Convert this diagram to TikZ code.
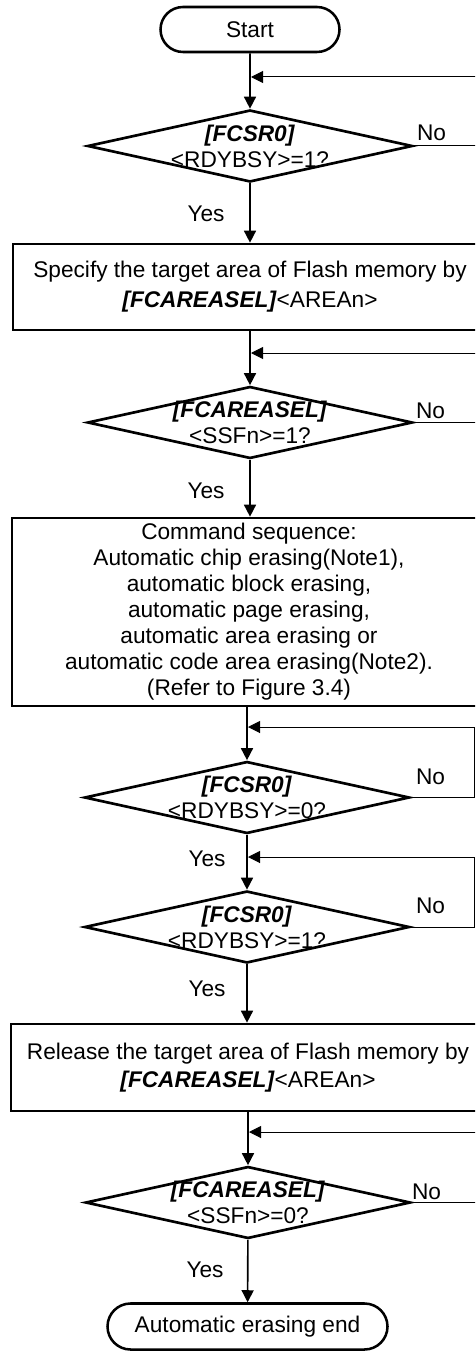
\documentclass[tikz,border=0pt]{standalone}
\usepackage{fontspec}
\setmainfont{Liberation Sans}
\usetikzlibrary{arrows.meta}
\usetikzlibrary{shapes.geometric,shapes.misc}

\newcommand{\regcond}[2]{\makebox[0pt]{\textbf{\textit{#1}}}\\\makebox[0pt]{#2}}

\begin{document}
\begin{tikzpicture}[x=0.75pt,y=0.75pt,yscale=-1,xscale=1,
  every node/.style={font=\fontsize{17}{19.5}\selectfont},
  term/.style={draw,line width=1.9pt,rounded rectangle,minimum height=33.75pt,inner sep=0pt},
  proc/.style={draw,line width=2pt,rectangle,minimum width=355.5pt,inner sep=0pt,align=center},
  cond/.style={draw,line width=2pt,diamond,minimum width=243.75pt,minimum height=54pt,inner sep=0pt,align=center},
  lbl/.style={inner sep=0pt},
  flow/.style={line width=1.2pt,-{Triangle[length=9pt,width=9pt]}},
  back/.style={line width=0.75pt,-{Triangle[length=9pt,width=9pt]}}]
			%Clip: page frame
			\clip (0,0) rectangle (475,1352);
			
			%Shape: Terminal [id:start]
			\node[term,minimum width=134.25pt] (start) at (250,29.5) {Start};
			%Shape: Diamond [id:chk1]
			\node[cond] (chk1) at (250,146) {\regcond{[FCSR0]}{<RDYBSY>=1?}};
			%Shape: Rectangle [id:sel]
			\node[proc,minimum height=64.5pt] (sel) at (250,287) {Specify the target area of Flash memory by\\[3pt]\textbf{\textit{[FCAREASEL]}}<AREAn>};
			%Shape: Diamond [id:chk2]
			\node[cond] (chk2) at (250,422.5) {\regcond{[FCAREASEL]}{<SSFn>=1?}};
			%Shape: Rectangle [id:cmd]
			\node[proc,minimum height=141pt] (cmd) at (249,612) {Command sequence:\\Automatic chip erasing(Note1),\\automatic block erasing,\\automatic page erasing,\\automatic area erasing or\\automatic code area erasing(Note2).\\(Refer to Figure 3.4)};
			%Shape: Diamond [id:chk3]
			\node[cond] (chk3) at (247,797.5) {\regcond{[FCSR0]}{<RDYBSY>=0?}};
			%Shape: Diamond [id:chk4]
			\node[cond] (chk4) at (247,927) {\regcond{[FCSR0]}{<RDYBSY>=1?}};
			%Shape: Rectangle [id:rel]
			\node[proc,minimum height=65.25pt] (rel) at (248,1067.5) {Release the target area of Flash memory by\\[1.5pt]\textbf{\textit{[FCAREASEL]}}<AREAn>};
			%Shape: Diamond [id:chk5]
			\node[cond] (chk5) at (248,1202.5) {\regcond{[FCAREASEL]}{<SSFn>=0?}};
			%Shape: Terminal [id:fin]
			\node[term,minimum width=210pt,minimum height=34.5pt] (fin) at (247.5,1326.5) {Automatic erasing end};
			
			%Join points
			\coordinate (j1) at (251,77);
			\coordinate (j2) at (251,353);
			\coordinate (j3) at (248,727);
			\coordinate (j4) at (248,857);
			\coordinate (j5) at (249,1132);
			
			%Straight Lines
			\draw[flow] (start) -- (chk1);
			\draw[flow] (chk1) -- (sel);
			\draw[flow] (sel) -- (chk2);
			\draw[flow] (chk2.south) -- (chk2.south |- cmd.north);
			\draw[flow] (cmd.south -| chk3) -- (chk3);
			\draw[flow] (chk3) -- (chk4);
			\draw[flow] (chk4.south) -- (chk4.south |- rel.north);
			\draw[flow] (rel.south -| chk5) -- (chk5);
			\draw[flow] (chk5) -- (fin);
			
			%Loop Lines
			\draw[back] (chk1.east) -- ++(90,0) |- (j1);
			\draw[back] (chk2.east) -- ++(90,0) |- (j2);
			\draw[back] (chk3.east) -- ++(64,0) |- (j3);
			\draw[back] (chk4.east) -- ++(64,0) |- (j4);
			\draw[back] (chk5.east) -- ++(90,0) |- (j5);
			
			% Text Node
			\path (chk1.east) ++(3,-13) node[lbl,anchor=west] (no1) {No};
			\path (chk2.east) ++(2,-12) node[lbl,anchor=west] (no2) {No};
			\path (chk3.east) ++(5,-21) node[lbl,anchor=west] (no3) {No};
			\path (chk4.east) ++(5,-21) node[lbl,anchor=west] (no4) {No};
			\path (chk5.east) ++(0,-11) node[lbl,anchor=west] (no5) {No};
			% Text Node
			\path (chk1.south) ++(-44,30) node[lbl] (yes1) {Yes};
			\path (chk2.south) ++(-44,31) node[lbl] (yes2) {Yes};
			\path (chk3.south) ++(-40,24) node[lbl] (yes3) {Yes};
			\path (chk4.south) ++(-40,24) node[lbl] (yes4) {Yes};
			\path (chk5.south) ++(-43,30) node[lbl] (yes5) {Yes};
\end{tikzpicture}
\end{document}
